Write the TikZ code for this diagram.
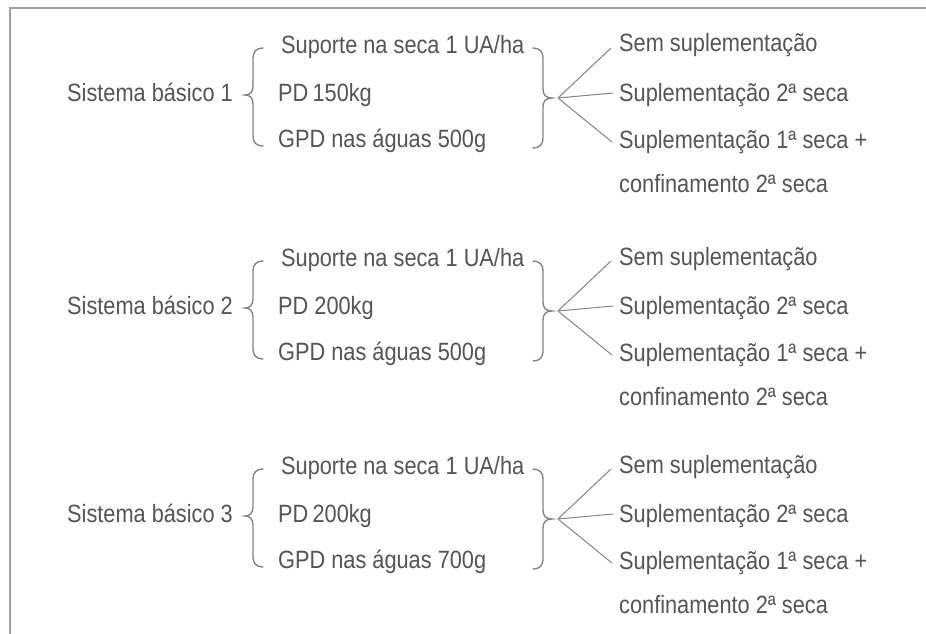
\documentclass[tikz,border=0pt]{standalone}
\usepackage{fontspec}
\setmainfont[FakeStretch=0.87]{Liberation Sans}
\definecolor{ink}{HTML}{555555}
\definecolor{rule}{HTML}{858585}
\definecolor{frame}{HTML}{A0A0A0}
\begin{document}
\begin{tikzpicture}[x=1pt,y=-1pt,
  txt/.style={anchor=base west,inner sep=0pt,text=ink,font=\fontsize{25}{29}\selectfont},
  brc/.style={draw=rule,line width=1.4pt,line cap=round},
  fan/.style={draw=rule,line width=1pt}]
\useasboundingbox (0,0) rectangle (926,634);
\fill[white] (0,0) rectangle (926,634);
% outer frame (top and left edges)
\draw[frame,line width=1.6pt] (10,634) -- (10,8) -- (926,8);

\foreach \i/\dy/\pd/\gpd in {1/0/{PD\,150kg}/{GPD nas águas 500g},
                              2/213/{PD 200kg}/{GPD nas águas 500g},
                              3/421/{PD\,200kg}/{GPD nas águas 700g}}{
  \begin{scope}[yshift=-\dy pt]
    % system label
    \node[txt] (sys\i) at (67,101) {Sistema básico \i};
    % characteristics
    \node[txt] (sup\i) at (281,53) {Suporte na seca 1 UA/ha};
    \node[txt] (pd\i)  at (278,101) {\pd};
    \node[txt] (gpd\i) at (278,147) {\gpd};
    % options
    \node[txt] (oa\i) at (619,52) {Sem suplementação};
    \node[txt] (ob\i) at (619,101) {Suplementação 2ª seca};
    \node[txt] (oc\i) at (619,148) {Suplementação 1ª seca +};
    \node[txt] (od\i) at (619,192) {confinamento 2ª seca};
    % left brace
    \draw[brc] (263,48) .. controls (256,48) and (253,52) .. (253,58) -- (253,86)
      .. controls (253,92) and (250,95) .. (245,95)
      .. controls (250,95) and (253,98) .. (253,104) -- (253,136)
      .. controls (253,142) and (256,146) .. (263,146);
    % right brace
    \draw[brc] (533,48) .. controls (540,48) and (543,52) .. (543,58) -- (543,89)
      .. controls (543,95) and (546,98) .. (552,98)
      .. controls (546,98) and (543,101) .. (543,107) -- (543,138)
      .. controls (543,144) and (540,148) .. (533,148);
    % fan of alternatives
    \coordinate (ap\i) at (558,98);
    \draw[fan] (ap\i) -- ([shift={(-8,-4)}]oa\i.base west);
    \draw[fan] (ap\i) -- ([shift={(-6,-8)}]ob\i.base west);
    \draw[fan] (ap\i) -- ([shift={(-7,-6)}]oc\i.base west);
  \end{scope}
}
\end{tikzpicture}
\end{document}
